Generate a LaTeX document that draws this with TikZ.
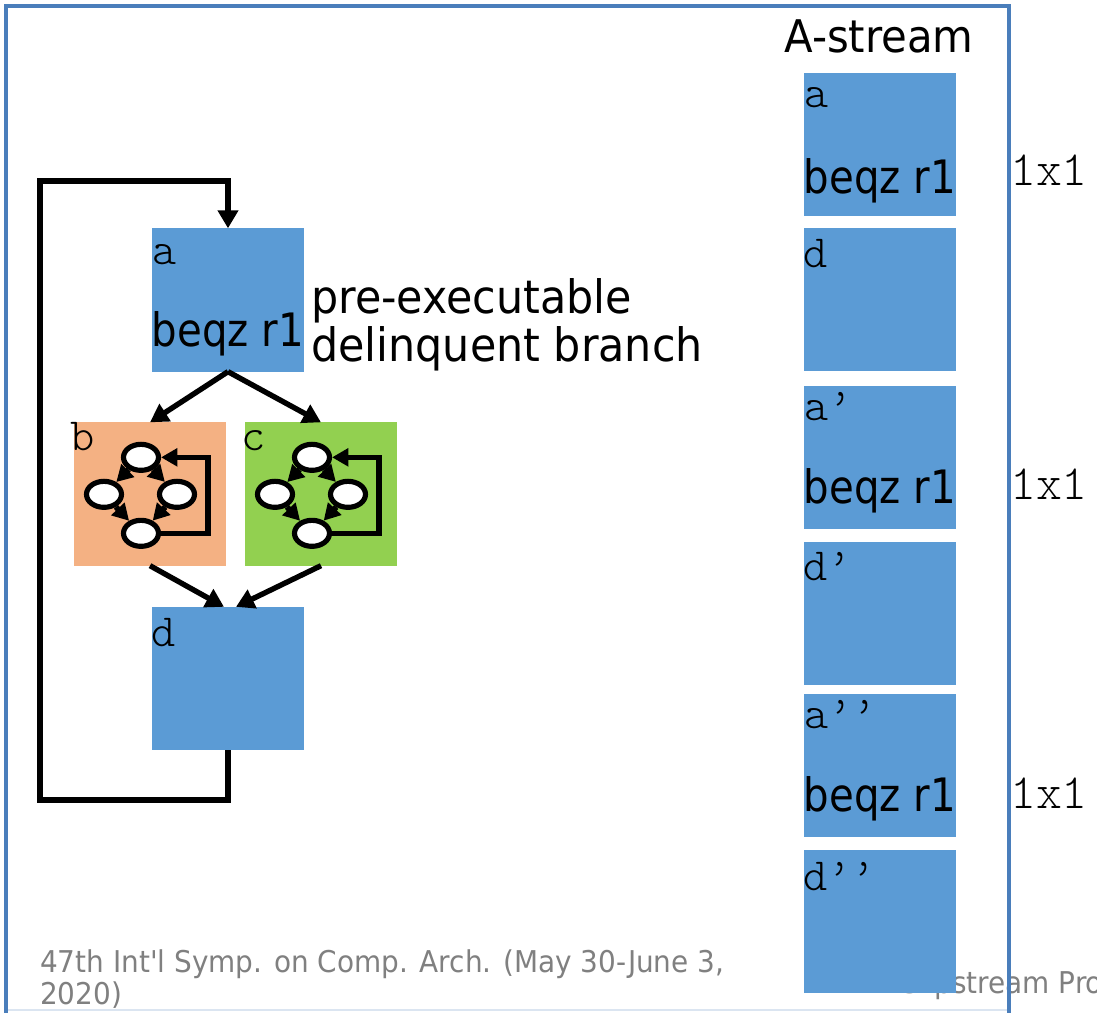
\documentclass[tikz,border=0pt]{standalone}
\usepackage{fontspec}
\usetikzlibrary{arrows.meta,shapes.geometric,calc}

\newfontfamily\labelfont[FakeStretch=0.93]{DejaVu Sans}
\newfontfamily\codefont[FakeStretch=0.875]{DejaVu Sans}
\newfontfamily\lettermono{Latin Modern Mono Light}

\definecolor{blockblue}{HTML}{5B9BD5}
\definecolor{pathorange}{HTML}{F4B183}
\definecolor{pathgreen}{HTML}{92D050}
\definecolor{framecol}{HTML}{4A7EBB}
\definecolor{footgray}{HTML}{808080}

\tikzset{
  blk/.style={fill=blockblue, minimum width=4.56cm, minimum height=4.3cm,
    inner sep=0pt, outer sep=0pt},
  blkname/.style={font=\lettermono\fontsize{39.3pt}{42pt}\selectfont,
    inner sep=0pt, anchor=base west},
  instr/.style={font=\codefont\fontsize{39.3pt}{42pt}\selectfont,
    inner sep=0pt, anchor=base},
  note/.style={font=\labelfont\fontsize{39.3pt}{42pt}\selectfont,
    inner sep=0pt, anchor=base west},
  foot/.style={font=\labelfont\fontsize{25.6pt}{31pt}\selectfont,
    text=footgray, inner sep=0pt, anchor=base west},
  ratio/.style={font=\lettermono\fontsize{42pt}{44pt}\selectfont,
    inner sep=0pt, anchor=base west},
  arr/.style={line width=4.6pt, -{Triangle[length=15.4pt,width=17pt]}},
  minibb/.style={ellipse, draw, fill=white, line width=4.4pt,
    minimum width=1.05cm, minimum height=0.78cm, inner sep=0pt},
  minarr/.style={line width=4.8pt, -{Triangle[length=14pt,width=15pt]}},
}

% a small loop of four basic blocks inside a path block
\newcommand\cyclegraph[1]{%
  \node[minibb] (#1-t) at ($(#1.north west)+(67,35)$) {};
  \node[minibb] (#1-l) at ($(#1.north west)+(30,72)$) {};
  \node[minibb] (#1-r) at ($(#1.north west)+(103,72)$) {};
  \node[minibb] (#1-b) at ($(#1.north west)+(67,111)$) {};
  \coordinate (#1-back) at ($(#1.north west)+(134,72)$);
  \draw[minarr] (#1-t) -- (#1-l);
  \draw[minarr] (#1-t) -- (#1-r);
  \draw[minarr] (#1-l) -- (#1-b);
  \draw[minarr] (#1-r) -- (#1-b);
  \draw[minarr] (#1-b.east) -| (#1-back) |- (#1-t.east);
}

\begin{document}
\begin{tikzpicture}[x=0.03cm, y=-0.03cm]
\clip (0,0) rectangle (1097,1012);
\fill[white] (0,0) rectangle (1097,1012);

% footer
\node[foot] (venue1) at (40,972) {47th Int'l Symp. on Comp. Arch. (May 30-June 3,};
\node[foot] (venue2) at (40,1004) {2020)};
\node[foot] (title) at (901,993) {Slipstream Pro};

% control-flow graph
\node[blk] (a) at (228,300) {};
\node[blk, fill=pathorange] (b) at (150,494) {};
\node[blk, fill=pathgreen] (c) at (321,494) {};
\node[blk] (d) at (228,678.5) {};

\node[blkname] (a-name) at ($(a.north west)+(0,36)$) {a};
\node[instr] (a-br) at ($(a.south)+(0,-25)$) {beqz r1};
\node[blkname] (b-name) at ($(b.north west)+(-4,28)$) {b};
\node[blkname] (c-name) at ($(c.north west)+(-4,28)$) {c};
\node[blkname] (d-name) at ($(d.north west)+(-1,40)$) {d};

\node[note] (note1) at (311,313) {pre-executable};
\node[note] (note2) at (311,361) {delinquent branch};

\cyclegraph{b}
\cyclegraph{c}

\draw[arr] (a.south) -- (b.north);
\draw[arr] (a.south) -- (c.north);
\draw[arr] (b.south) -- ($(d.north)+(-4,0)$);
\draw[arr] (c.south) -- ($(d.north)+(8,0)$);

\coordinate (loop-bot) at (40,800);
\coordinate (loop-top) at (40,181);
\draw[arr] (d.south) |- (loop-bot) -- (loop-top) -| (a.north);

% A-stream
\node[note, anchor=base] (astream) at (879,53)
  {\fontsize{38.4pt}{42pt}\selectfont A-stream};

\node[blk] (s1) at (880,144.5) {};
\node[blk] (s2) at (880,299.5) {};
\node[blk] (s3) at (880,457.5) {};
\node[blk] (s4) at (880,613.5) {};
\node[blk] (s5) at (880,765.5) {};
\node[blk] (s6) at (880,921.5) {};

\node[blkname] (s1-name) at ($(s1.north west)+(0,35)$) {a};
\node[blkname] (s2-name) at ($(s2.north west)+(-1,40)$) {d};
\node[blkname] (s3-name) at ($(s3.north west)+(0,35)$) {a’};
\node[blkname] (s4-name) at ($(s4.north west)+(-1,39)$) {d’};
\node[blkname] (s5-name) at ($(s5.north west)+(0,35)$) {a’’};
\node[blkname] (s6-name) at ($(s6.north west)+(-1,41)$) {d’’};

\node[instr] (s1-br) at ($(s1.south)+(0,-23)$) {beqz r1};
\node[instr] (s3-br) at ($(s3.south)+(0,-26)$) {beqz r1};
\node[instr] (s5-br) at ($(s5.south)+(0,-26)$) {beqz r1};

\node[ratio] (r1) at (1010,185) {1x1};
\node[ratio] (r2) at (1010,499) {1x1};
\node[ratio] (r3) at (1010,808) {1x1};

% slide frame
\draw[framecol!20, line width=1pt] (6,1010) -- (1009,1010);
\draw[framecol, line width=2.6pt] (6,1013) -- (6,6) -- (1009,6) -- (1009,1013);
\end{tikzpicture}
\end{document}
